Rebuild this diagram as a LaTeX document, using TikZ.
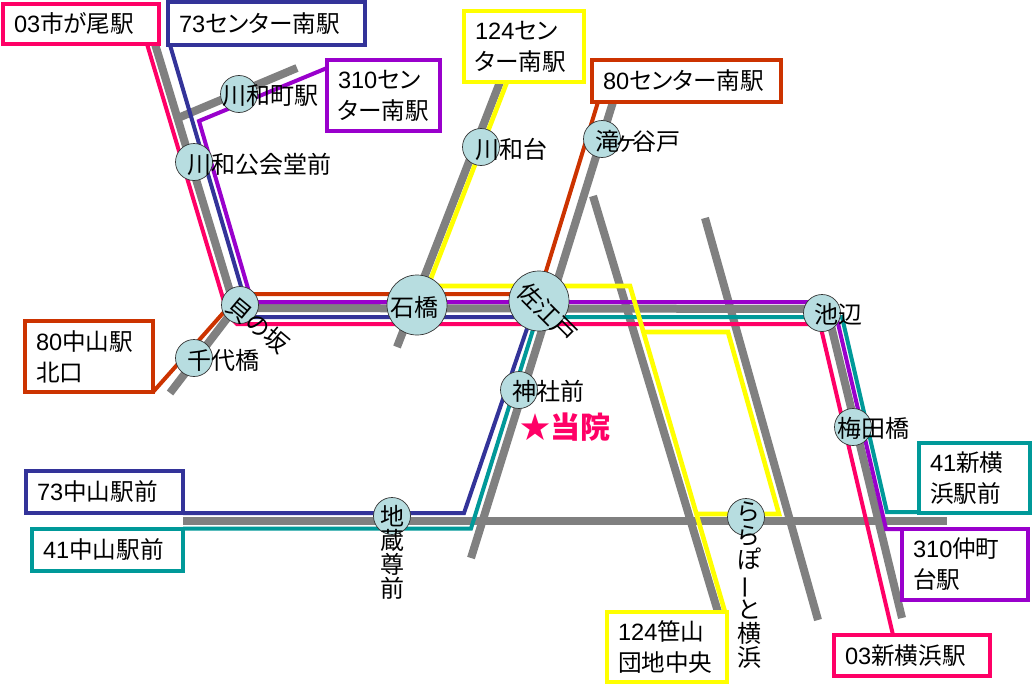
\documentclass[tikz,border=0pt]{standalone}
\usepackage{fontspec}
\usetikzlibrary{backgrounds}
\setmainfont[RawFeature=+palt]{Noto Sans CJK JP}
\newfontfamily\dgf{Liberation Sans}
\newcommand\dg[1]{{\dgf #1}}
\definecolor{cpink}{HTML}{FF0066}
\definecolor{cnavy}{HTML}{333399}
\definecolor{cpurp}{HTML}{9900CC}
\definecolor{cred}{HTML}{CC3300}
\definecolor{cyel}{HTML}{FFFF00}
\definecolor{cteal}{HTML}{009999}
\definecolor{cgray}{HTML}{808080}
\definecolor{cstn}{HTML}{B7DDE0}
\tikzset{
  road/.style={draw=cgray,line width=8pt,line join=miter},
  route/.style={line width=4pt,line join=miter},
  yroute/.style={route,line width=4.6pt},
  stn/.style={circle,draw=black!80,line width=0.7pt,fill=cstn,minimum size=37pt,inner sep=0pt},
  bigstn/.style={stn,minimum size=60pt},
  lbl/.style={inner sep=0pt,font=\fontsize{24}{24}\selectfont,align=center},
  boxn/.style 2 args={draw,line width=3.6pt,fill=white,minimum width=#1pt,minimum height=#2pt,outer sep=0pt,
    text width=#1pt-22pt,inner xsep=11pt,inner ysep=0pt,align=left,
    font=\fontsize{23.6}{31}\selectfont},
}
\begin{document}
\begin{tikzpicture}[x=1pt,y=-1pt]
\begin{scope}[on background layer]
\path[use as bounding box,fill=white] (0,0) rectangle (1032,685);
\end{scope}
% boxes
\node[boxn={156}{40},draw=cpink] (b03) at (81,24) {\dg{03}市が尾駅};
\node[boxn={197}{43},draw=cnavy] (b73c) at (266.5,23.5) {\dg{73}センター南駅};
\node[boxn={113}{71},draw=cpurp] (b310c) at (383.5,95.5) {\dg{310}セン\\ター南駅};
\node[boxn={120}{71},draw=cyel] (b124c) at (524,46.5) {\dg{124}セン\\ター南駅};
\node[boxn={189}{42},draw=cred] (b80c) at (686.5,81) {\dg{80}センター南駅};
\node[boxn={128}{71},draw=cred] (b80n) at (89,356.5) {\dg{80}中山駅\\北口};
\node[boxn={157}{42},draw=cnavy] (b73n) at (104.5,492) {\dg{73}中山駅前};
\node[boxn={151}{42},draw=cteal] (b41n) at (107.5,550) {\dg{41}中山駅前};
\node[boxn={120}{70},draw=cyel] (b124s) at (667,647) {\dg{124}笹山\\団地中央};
\node[boxn={111}{70},draw=cteal] (b41s) at (974.5,478) {\dg{41}新横\\浜駅前};
\node[boxn={126}{71},draw=cpurp] (b310n) at (965,564.5) {\dg{310}仲町\\台駅};
\node[boxn={156}{41},draw=cpink] (b03s) at (912,655.5) {\dg{03}新横浜駅};
% stations
\node[stn] (s1) at (239,94) {};
\node[stn] (s2) at (194,162) {};
\node[stn] (s3) at (240,305) {};
\node[stn] (s4) at (194,358) {};
\node[bigstn] (s5) at (417,305) {};
\node[bigstn] (s6) at (539,301) {};
\node[stn] (s7) at (481,147) {};
\node[stn] (s8) at (602,139) {};
\node[stn] (s9) at (822,313) {};
\node[stn] (s10) at (853,427) {};
\node[stn] (s11) at (519,390) {};
\node[stn] (s12) at (392,516) {};
\node[stn] (s13) at (746,517) {};
% station labels
\node[lbl,anchor=west] (t1) at (222,96) {川和町駅};
\node[lbl,anchor=west] (t2) at (187,164) {川和公会堂前};
\node[lbl,rotate=-40] (t3) at (258,325) {貝の坂};
\node[lbl,anchor=west] (t4) at (187,360) {千代橋};
\node[lbl] (t5) at (414,307) {石橋};
\node[lbl,rotate=-45] (t6) at (547,313) {佐江戸};
\node[lbl,anchor=west] (t7) at (475,149) {川和台};
\node[lbl,anchor=west] (t8) at (595,141) {滝\hspace{-3pt}ヶ\hspace{-3pt}谷戸};
\node[lbl,anchor=west] (t9) at (814,314) {池辺};
\node[lbl,anchor=west] (t10) at (837,428) {梅田橋};
\node[lbl,anchor=west] (t11) at (512,391) {神社前};
\node[lbl] (t12) at (392,552) {地\\蔵\\尊\\前};
\node[lbl] (t13) at (749,585) {ら\\ら\\ぽ\\\rotatebox[origin=c]{90}{ー}\\と\\横\\浜};
\node[inner sep=0pt,anchor=west,text=cpink,font=\fontsize{30}{30}\selectfont\bfseries] (clinic) at (520,427) {★当院};
% free ends and bends
\coordinate (g1bend) at (235,308);
\coordinate (g1end) at (170,393);
\coordinate (g2a) at (178,118);
\coordinate (g2b) at (297,68);
\coordinate (g3h) at (827,309);
\coordinate (g3end) at (902,618);
\coordinate (g4a) at (397,347);
\coordinate (g5a) at (471,558);
\coordinate (g6a) at (593,196);
\coordinate (g7a) at (705,218);
\coordinate (g7b) at (818,620);
\coordinate (g8a) at (183,521);
\coordinate (g8b) at (947,521);
\coordinate (p0) at (228,315);
\coordinate (p1) at (237,324);
\coordinate (p2) at (820,324);
\coordinate (n1) at (250,317);
\coordinate (n2) at (531,317);
\coordinate (n3) at (464,513);
\coordinate (u1) at (199,121);
\coordinate (u2) at (252,302);
\coordinate (u3) at (833,302);
\coordinate (u4) at (886,529);
\coordinate (r1) at (240,294);
\coordinate (r2) at (539,294);
\coordinate (y1) at (428,286);
\coordinate (y2) at (630,286);
\coordinate (y3) at (643,332);
\coordinate (y4) at (728,332);
\coordinate (y5) at (779,514);
\coordinate (y6) at (697,514);
\coordinate (e1) at (471,528.5);
\coordinate (e2) at (537,317);
\coordinate (e3) at (842,317);
\coordinate (e4) at (887,512);
\begin{scope}[on background layer]
\draw[road] ([xshift=74]b03.south) -- (g1bend) -- (g3h) -- (g3end);
\draw[road] (g1bend) -- (g1end);
\draw[road] (g2a) -- (g2b);
\draw[road] (g4a) -- ([xshift=-24]b124c.south);
\draw[road] (g5a) -- ([xshift=-73.5]b80c.south);
\draw[road] (g6a) -- ([xshift=51]b124s.north);
\draw[road] (g7a) -- (g7b);
\draw[road] (g8a) -- (g8b);
\draw[route,cred] (b80n.south east) -- (r1) -- (r2) -- ([xshift=-88.5]b80c.south);
\draw[route,cnavy] ([xshift=-96.5]b73c.south) -- (n1) -- (n2) -- (n3) -- (b73n.south east);
\draw[route,cteal] ([yshift=0.5]b41n.north east) -- (e1) -- (e2) -- (e3) -- (e4) -- ([xshift=-21.5,yshift=1]b41s.south);
\draw[route,cpurp] ([yshift=27.5]b310c.west) -- (u1) -- (u2) -- (u3) -- (u4) -- (b310n.north west);
\draw[route,cpink] ([xshift=66]b03.south) -- (p0) -- (p1) -- (p2) -- ([xshift=-19]b03s.north);
\draw[yroute,cyel] ([xshift=-17]b124c.south) -- (y1) -- (y2) -- ([xshift=58]b124s.north);
\draw[yroute,cyel] (y3) -- (y4) -- (y5) -- (y6);
\end{scope}
\end{tikzpicture}
\end{document}
